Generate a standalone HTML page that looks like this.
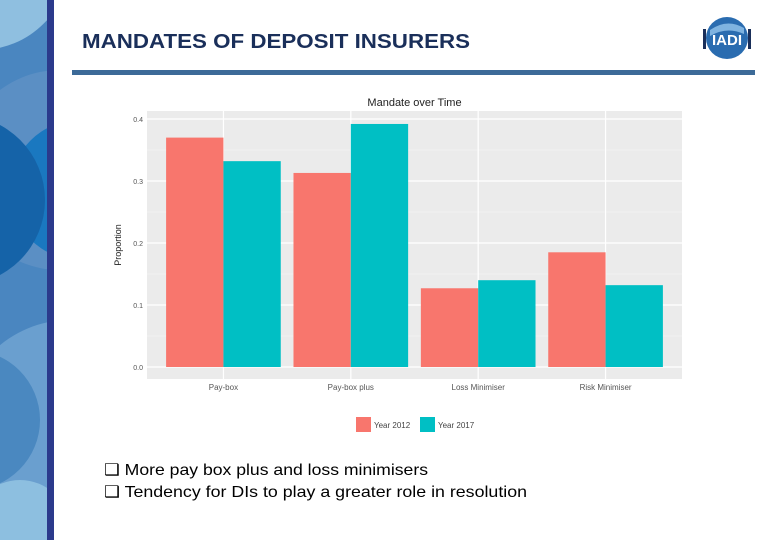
<!DOCTYPE html>
<html><head><meta charset="utf-8"><style>
html,body{margin:0;padding:0;width:780px;height:540px;background:#fff;overflow:hidden;font-family:"Liberation Sans",sans-serif}
svg{display:block;position:absolute;left:0;top:0}
</style></head><body>
<svg width="780" height="540">
<defs><clipPath id="sb"><rect x="0" y="0" width="47" height="540"/></clipPath></defs>
<g clip-path="url(#sb)">
<rect x="0" y="0" width="47" height="540" fill="#4a86c0"/>
<circle cx="-20" cy="-40" r="90" fill="#8fbfe0"/>
<circle cx="60" cy="170" r="100" fill="#5b8fc4"/>
<circle cx="80" cy="190" r="70" fill="#1a78c0"/>
<circle cx="-40" cy="200" r="85" fill="#1563a8"/>
<circle cx="70" cy="430" r="110" fill="#6a9fcf"/>
<circle cx="-30" cy="420" r="70" fill="#4a88c0"/>
<circle cx="20" cy="530" r="50" fill="#8dbfe0"/>
</g>
<rect x="47" y="0" width="7" height="540" fill="#2b3a8c"/>
<text x="82" y="48" font-size="20" font-weight="bold" fill="#1a2f5a" textLength="388" lengthAdjust="spacingAndGlyphs">MANDATES OF DEPOSIT INSURERS</text>
<rect x="72" y="70" width="683" height="5" fill="#3c6a98"/>
<g>
<circle cx="727" cy="38" r="21" fill="#2a6cb0"/>
<path d="M710 30 Q727 18 744 28 L744 34 Q727 26 710 36Z" fill="#7fb3e0"/>
<text x="727" y="45" font-size="15" font-weight="bold" fill="#fff" text-anchor="middle">IADI</text>
<rect x="703" y="29" width="3" height="20" fill="#1a2f5a"/><rect x="748" y="29" width="3" height="20" fill="#1a2f5a"/>
</g>
<g id="chart"></g>
<text x="104" y="475" font-size="16" fill="#000" textLength="324" lengthAdjust="spacingAndGlyphs">❑ More pay box plus and loss minimisers</text>
<text x="104" y="497" font-size="16" fill="#000" textLength="423" lengthAdjust="spacingAndGlyphs">❑ Tendency for DIs to play a greater role in resolution</text>
</svg>
<script>
const categories=["Pay-box","Pay-box plus","Loss Minimiser","Risk Minimiser"];
const series2012=[0.37,0.313,0.127,0.185];
const series2017=[0.332,0.392,0.14,0.132];
const yTicks=[0,0.1,0.2,0.3,0.4];
const yTickLabels=["0.0","0.1","0.2","0.3","0.4"];
const seriesNames=["Year 2012","Year 2017"];
const NS="http://www.w3.org/2000/svg";
const g=document.getElementById('chart');
const PX0=147,PX1=682,PY0=111,PY1=379;
function y(v){return 367-v*620;}
function x(i){return PX0+(i+0.6)*(PX1-PX0)/(categories.length-1+1.2);}
const bw=0.45*(PX1-PX0)/(categories.length-1+1.2);
function mk(t,a,txt){const e=document.createElementNS(NS,t);for(const k in a)e.setAttribute(k,a[k]);if(txt!=null)e.textContent=txt;g.appendChild(e);return e;}
let e=mk('rect',{x:PX0,y:PY0,width:PX1-PX0,height:PY1-PY0,fill:'#ebebeb'});


for(let i=0;i<yTicks.length;i++){
 if(i<yTicks.length-1){e=mk('line',{x1:PX0,x2:PX1,y1:y(yTicks[i]+0.05),y2:y(yTicks[i]+0.05),stroke:'#f6f6f6','stroke-width':0.6});}
 e=mk('line',{x1:PX0,x2:PX1,y1:y(yTicks[i]),y2:y(yTicks[i]),stroke:'#fff','stroke-width':1.2});
 
 
 e=mk('text',{x:PX0-4,y:y(yTicks[i])+3,'font-size':7,fill:'#555','text-anchor':'end'},yTickLabels[i]);
 
 
}
categories.forEach((c,i)=>{
 e=mk('line',{x1:x(i),x2:x(i),y1:PY0,y2:PY1,stroke:'#fff','stroke-width':1.2});
 
 
 e=mk('rect',{x:x(i)-bw,y:y(series2012[i]),width:bw,height:y(0)-y(series2012[i]),fill:'#f8766d'});
 
 
 e=mk('rect',{x:x(i),y:y(series2017[i]),width:bw,height:y(0)-y(series2017[i]),fill:'#00bfc4'});
 
 
 e=mk('text',{x:x(i),y:390,'font-size':8,fill:'#555','text-anchor':'middle'},c);
 
 
});
e=mk('text',{x:(PX0+PX1)/2,y:106,'font-size':11,fill:'#222','text-anchor':'middle'},'Mandate over Time');


e=mk('text',{x:0,y:0,'font-size':9,fill:'#222','text-anchor':'middle',transform:'translate(121,245) rotate(-90)'},'Proportion');


const lx=[356,420],cols=['#f8766d','#00bfc4'];
seriesNames.forEach((n,i)=>{
 e=mk('rect',{x:lx[i],y:417,width:15,height:15,fill:cols[i]});
 
 
 e=mk('text',{x:lx[i]+18,y:428,'font-size':8,fill:'#444'},n);
 
 
});
</script>
</body></html>
